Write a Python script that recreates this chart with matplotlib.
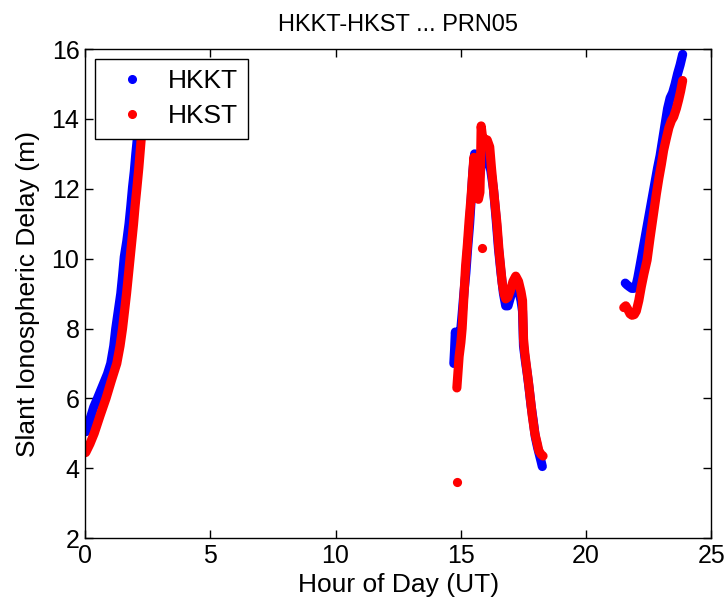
import matplotlib
matplotlib.use("Agg")
import matplotlib.pyplot as plt
from matplotlib.lines import Line2D

plt.rcParams["font.family"] = ["Liberation Sans", "DejaVu Sans"]

# HKKT (blue), three visible arcs of PRN05
hkkt_t1 = [0.05, 0.2, 0.35, 0.5, 0.7, 0.9, 1.03, 1.15, 1.23, 1.33, 1.43, 1.5, 1.57, 1.67,
           1.76, 1.83, 1.9, 1.97, 2.03, 2.1, 2.2, 2.3]
hkkt_v1 = [5.05, 5.4, 5.75, 6.0, 6.35, 6.7, 7.0, 7.5, 8.0, 8.5, 9.0, 9.5, 10.05, 10.5,
           11.0, 11.5, 12.05, 12.5, 13.0, 13.5, 14.0, 14.5]
hkkt_t2 = [14.72, 14.75, 14.78, 14.82, 14.86, 14.9, 14.95, 15.0, 15.05, 15.12, 15.2, 15.27,
           15.35, 15.42, 15.48, 15.55, 15.62, 15.68, 15.74, 15.8, 15.9, 16.0, 16.1, 16.2,
           16.3, 16.4, 16.5, 16.6, 16.7, 16.79, 16.88, 16.98, 17.08, 17.18, 17.3, 17.4,
           17.46, 17.5, 17.57, 17.65, 17.72, 17.8, 17.88, 17.97, 18.06, 18.13, 18.2, 18.25]
hkkt_v2 = [7.0, 7.4, 7.9, 7.7, 7.2, 7.5, 7.9, 8.0, 8.4, 9.0, 9.6, 10.3,
           11.0, 11.8, 12.5, 13.0, 12.9, 12.5, 12.3, 12.6, 13.0, 13.0, 12.9, 12.5,
           12.0, 11.2, 10.3, 9.6, 9.0, 8.65, 8.65, 8.9, 9.15, 9.3, 9.1, 8.8,
           8.5, 7.5, 7.1, 6.7, 6.3, 5.8, 5.4, 4.9, 4.6, 4.4, 4.2, 4.05]
hkkt_t3 = [21.56, 21.63, 21.72, 21.82, 21.9, 21.98, 22.06, 22.15, 22.25, 22.35, 22.45, 22.55,
           22.65, 22.75, 22.85, 22.95, 23.05, 23.15, 23.25, 23.35, 23.45, 23.55, 23.65,
           23.75, 23.85]
hkkt_v3 = [9.3, 9.25, 9.2, 9.15, 9.15, 9.2, 9.45, 9.8, 10.2, 10.6, 11.0, 11.4,
           11.8, 12.2, 12.6, 12.95, 13.4, 13.85, 14.3, 14.6, 14.75, 15.0, 15.3,
           15.55, 15.85]

# HKST (red)
hkst_t1 = [0.03, 0.2, 0.37, 0.6, 0.84, 1.05, 1.27, 1.4, 1.5, 1.58, 1.66, 1.73, 1.8, 1.87,
           1.94, 2.0, 2.07, 2.15, 2.23, 2.3]
hkst_v1 = [4.45, 4.7, 5.0, 5.5, 6.0, 6.5, 7.0, 7.5, 8.0, 8.5, 9.0, 9.5, 10.0, 10.5,
           11.0, 11.5, 12.0, 12.6, 13.3, 13.9]
hkst_t2 = [14.84, 14.88, 14.93, 15.0, 15.05, 15.12, 15.19, 15.26, 15.33, 15.4, 15.46, 15.52,
           15.58, 15.64, 15.7, 15.76, 15.79, 15.81, 15.86, 15.95, 16.05, 16.15, 16.22, 16.3,
           16.37, 16.44, 16.52, 16.65, 16.72, 16.79, 16.88, 16.98, 17.08, 17.19, 17.3, 17.4,
           17.46, 17.5, 17.55, 17.62, 17.7, 17.78, 17.85, 17.95, 18.05, 18.11, 18.2, 18.28]
hkst_v2 = [6.3, 6.7, 7.2, 7.6, 8.0, 8.9, 9.8, 10.4, 11.1, 11.7, 12.3, 12.9,
           12.4, 12.0, 11.7, 11.9, 12.9, 13.8, 13.5, 13.4, 13.4, 13.2, 12.6, 12.0,
           11.5, 11.0, 10.25, 9.3, 9.0, 8.85, 8.9, 9.1, 9.35, 9.5, 9.35, 9.05,
           8.8, 7.7, 7.3, 6.9, 6.45, 5.95, 5.5, 5.0, 4.7, 4.5, 4.4, 4.35]
hkst_t3 = [21.5, 21.58, 21.66, 21.75, 21.83, 21.92, 22.0, 22.1, 22.2, 22.3, 22.43, 22.55,
           22.69, 22.8, 22.9, 23.0, 23.09, 23.2, 23.3, 23.4, 23.49, 23.6, 23.69, 23.77, 23.85]
hkst_v3 = [8.6, 8.65, 8.55, 8.42, 8.38, 8.4, 8.5, 8.8, 9.2, 9.55, 9.96, 10.6,
           11.3, 11.85, 12.3, 12.7, 13.1, 13.45, 13.75, 13.95, 14.06, 14.3, 14.55, 14.8, 15.1]
# isolated HKST epochs
hkst_out_t = [14.83, 15.83]
hkst_out_v = [3.62, 10.3]

BLUE = "#0000ff"
RED = "#ff0000"

fig = plt.figure(figsize=(7.26, 6.06), dpi=100)
ax = fig.add_axes([0.117, 0.112, 0.863, 0.807])

stroke = dict(linewidth=6.6, solid_capstyle="round", solid_joinstyle="round")
for t, v in [(hkkt_t1, hkkt_v1), (hkkt_t2, hkkt_v2), (hkkt_t3, hkkt_v3)]:
    ax.plot(t, v, color=BLUE, **stroke)
for t, v in [(hkst_t1, hkst_v1), (hkst_t2, hkst_v2), (hkst_t3, hkst_v3)]:
    ax.plot(t, v, color=RED, **stroke)
ax.plot(hkst_out_t, hkst_out_v, "o", color=RED, markersize=6.6, markeredgewidth=0)

ax.set_xlim(0, 25)
ax.set_ylim(2, 16)
ax.set_xticks([0, 5, 10, 15, 20, 25])
ax.set_yticks([2, 4, 6, 8, 10, 12, 14, 16])
ax.tick_params(direction="in", top=True, right=True, length=6, width=1,
               labelsize=18, pad=4)
for s in ax.spines.values():
    s.set_linewidth(1.0)

ax.set_xlabel("Hour of Day (UT)", fontsize=19, labelpad=4)
ax.set_ylabel("Slant Ionospheric Delay (m)", fontsize=19, labelpad=8)
ax.set_title("HKKT-HKST ... PRN05", fontsize=17, pad=13)

handles = [Line2D([], [], linestyle="none", marker="o", markersize=5.5, color=BLUE),
           Line2D([], [], linestyle="none", marker="o", markersize=5.5, color=RED)]
leg = ax.legend(handles, ["HKKT", "HKST"], loc="upper left",
                bbox_to_anchor=(0.016, 0.98), borderaxespad=0, fontsize=19,
                fancybox=False, framealpha=1, edgecolor="black",
                handlelength=2.0, handletextpad=0.35, labelspacing=0.4,
                borderpad=0.4)
leg.get_frame().set_linewidth(1.0)

fig.savefig("out.png", dpi=100)
